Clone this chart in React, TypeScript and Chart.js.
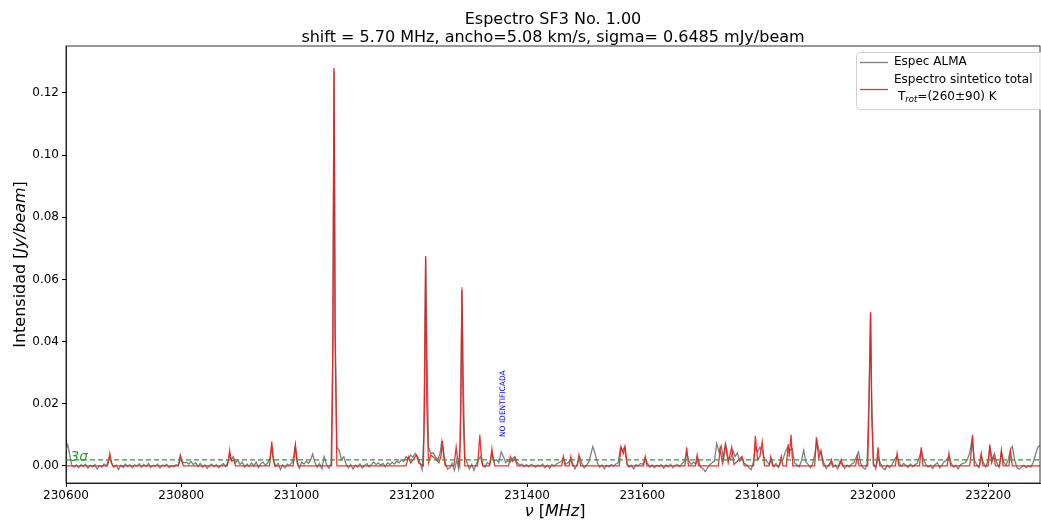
import React, { useEffect, useRef } from "react";
import { Chart, registerables } from "chart.js";

Chart.register(...registerables);

const FONT = '"DejaVu Sans", sans-serif';

const titleLines = [
  "Espectro SF3 No. 1.00",
  "shift = 5.70 MHz, ancho=5.08 km/s, sigma= 0.6485 mJy/beam",
];
const sigma = 0.0006485;
const xRange = [230600, 232290];
const yRange = [-0.0055, 0.1351];
const xTicks = [230600, 230800, 231000, 231200, 231400, 231600, 231800, 232000, 232200];
const yTicks = [0.0, 0.02, 0.04, 0.06, 0.08, 0.1, 0.12];
const noIdPos = [231358, 0.0093];

// Observed ALMA spectrum [MHz, Jy/beam]
const almaSpectrum: [number, number][] = [
  [230600,0.0050],[230603,0.0068],[230607,0.0030],[230610,0.0002],[230614,-0.0004],[230618,0.0003],[230622,-0.0006],[230626,0.0004],[230630,-0.0002],[230634,0.0005],[230638,-0.0008],[230642,0.0002],[230646,-0.0003],[230650,0.0004],[230654,-0.0010],[230658,0.0001],[230662,-0.0004],[230666,0.0006],[230670,0.0000],[230674,0.0020],[230676,0.0030],[230679,0.0008],[230683,-0.0004],[230687,0.0003],[230691,-0.0012],[230695,0.0002],[230699,-0.0005],[230703,0.0006],[230707,-0.0002],[230711,0.0004],[230715,-0.0006],[230719,0.0003],[230723,0.0000],[230727,0.0007],[230731,-0.0004],[230735,0.0005],[230739,-0.0002],[230743,0.0008],[230747,-0.0005],[230751,0.0002],[230755,-0.0001],[230759,0.0006],[230763,-0.0007],[230767,0.0003],[230771,0.0000],[230775,0.0005],[230779,-0.0006],[230783,0.0001],[230787,-0.0003],[230791,0.0004],[230795,0.0002],[230798,0.0035],[230801,0.0015],[230805,0.0010],[230809,0.0012],[230813,0.0006],[230817,0.0014],[230821,0.0004],[230825,0.0010],[230829,-0.0002],[230833,0.0008],[230837,-0.0004],[230841,0.0003],[230845,-0.0008],[230849,0.0002],[230853,0.0006],[230857,-0.0003],[230861,0.0004],[230865,-0.0006],[230869,0.0002],[230873,0.0007],[230877,-0.0002],[230881,0.0012],[230884,0.0040],[230887,0.0020],[230890,0.0030],[230894,0.0010],[230898,0.0018],[230902,0.0005],[230906,0.0012],[230910,-0.0004],[230914,0.0006],[230918,-0.0002],[230922,0.0010],[230926,0.0000],[230930,0.0012],[230934,-0.0005],[230938,0.0008],[230942,0.0012],[230946,0.0002],[230950,0.0010],[230954,0.0025],[230957,0.0060],[230960,0.0015],[230964,-0.0002],[230968,0.0008],[230972,-0.0012],[230976,0.0004],[230980,-0.0006],[230984,0.0006],[230988,0.0002],[230992,0.0010],[230995,0.0030],[230998,0.0068],[231001,0.0010],[231005,-0.0008],[231009,0.0012],[231013,0.0006],[231017,0.0015],[231021,0.0008],[231025,0.0022],[231028,0.0038],[231032,0.0010],[231036,-0.0004],[231040,0.0008],[231044,-0.0010],[231048,0.0030],[231052,0.0005],[231056,-0.0008],[231060,0.0010],[231063,0.0350],[231065,0.1270],[231067,0.0450],[231070,0.0060],[231074,0.0050],[231078,0.0020],[231082,0.0030],[231086,0.0005],[231090,-0.0006],
  [231094,0.0004],[231098,-0.0010],[231102,0.0002],[231106,-0.0004],[231110,0.0006],[231114,-0.0007],[231118,0.0001],[231122,0.0008],[231126,-0.0003],[231130,0.0005],[231134,0.0012],[231138,0.0004],[231142,0.0010],[231146,0.0002],[231150,0.0008],[231154,-0.0002],[231158,0.0010],[231162,0.0004],[231166,0.0012],[231170,0.0006],[231174,0.0015],[231178,0.0010],[231182,0.0020],[231186,0.0014],[231190,0.0030],[231194,0.0022],[231198,0.0035],[231202,0.0028],[231206,0.0040],[231210,0.0030],[231214,0.0010],[231218,-0.0012],[231221,0.0100],[231224,0.0670],[231226,0.0400],[231229,0.0060],[231233,0.0040],[231237,0.0042],[231241,0.0030],[231245,0.0020],[231249,0.0040],[231252,0.0080],[231255,0.0050],[231258,0.0010],[231262,-0.0010],[231266,-0.0006],[231270,0.0008],[231274,-0.0015],[231278,0.0020],[231281,-0.0008],[231284,0.0080],[231287,0.0575],[231289,0.0300],[231292,0.0030],[231296,0.0010],[231300,-0.0010],[231304,0.0005],[231308,-0.0015],[231312,0.0008],[231316,0.0020],[231319,0.0030],[231323,0.0002],[231327,-0.0004],[231331,0.0010],[231335,0.0005],[231339,0.0040],[231343,0.0015],[231347,0.0020],[231351,0.0010],[231355,0.0045],[231359,0.0030],[231363,0.0010],[231367,0.0018],[231371,0.0012],[231375,0.0024],[231379,0.0030],[231383,0.0010],[231387,0.0002],[231391,0.0006],[231395,-0.0002],[231399,0.0004],[231403,-0.0003],[231407,0.0005],[231411,0.0001],[231415,-0.0004],[231419,0.0003],[231423,-0.0001],[231427,0.0006],[231431,-0.0006],[231435,0.0002],[231439,-0.0008],[231443,0.0004],[231447,0.0000],[231451,0.0006],[231455,0.0010],[231459,0.0014],[231463,0.0025],[231467,0.0005],[231471,0.0010],[231475,0.0020],[231479,0.0008],[231483,-0.0010],[231487,0.0005],[231491,0.0030],[231495,0.0008],[231499,-0.0006],[231503,0.0002],[231507,0.0012],[231511,0.0040],[231514,0.0062],[231518,0.0040],[231522,0.0010],[231526,-0.0004],[231530,0.0003],[231534,-0.0009],[231538,0.0002],[231542,-0.0003],[231546,0.0004],[231550,0.0000],[231554,0.0006],[231558,0.0010],[231562,0.0058],[231566,0.0050],[231569,0.0060],[231573,0.0010],[231577,-0.0004],[231581,0.0002],[231585,-0.0010],[231589,0.0004],[231593,0.0000],[231597,0.0008],[231601,0.0005],[231605,0.0025],[231609,0.0008],[231613,-0.0004],[231617,0.0003],[231621,-0.0006],[231625,0.0002],[231629,-0.0002],[231633,0.0004],[231637,-0.0008],[231641,0.0003],[231645,-0.0003],[231649,0.0005],[231653,-0.0006],[231657,0.0002],[231661,0.0004],[231665,-0.0002],[231669,0.0008],[231673,0.0015],[231677,0.0042],[231681,0.0015],[231685,0.0005],[231689,0.0012],[231693,0.0006],[231697,0.0022],[231701,-0.0004],[231705,-0.0008],[231709,-0.0018],[231713,-0.0006],[231717,0.0004],[231721,0.0010],[231725,0.0015],[231729,0.0072],[231733,0.0045],[231737,0.0065],[231741,0.0020],[231745,0.0068],[231749,0.0025],[231753,0.0020],[231757,0.0050],[231761,0.0030],[231765,0.0042],[231769,0.0015],[231773,0.0025],[231777,0.0008],[231781,0.0004],[231785,-0.0006],[231789,-0.0012],[231793,0.0015],[231796,0.0060],[231800,0.0045],[231804,0.0060],[231808,0.0050],[231812,0.0020],[231816,0.0015],[231820,0.0005],[231824,0.0020],[231828,-0.0002],[231832,0.0008],[231836,-0.0005],[231840,0.0015],[231844,0.0020],[231848,0.0045],[231852,0.0060],[231856,0.0050],[231860,0.0055],[231864,0.0010],[231868,0.0004],[231872,-0.0003],[231876,0.0015],[231880,0.0050],[231884,0.0012],[231888,0.0004],[231892,-0.0006],[231896,0.0010],[231900,0.0045],[231903,0.0080],[231907,0.0045],[231911,0.0035],[231915,0.0010],[231919,-0.0008],[231923,0.0002],[231927,0.0012],[231931,-0.0004],[231935,0.0003],[231939,-0.0010],[231943,0.0015],[231947,0.0005],[231951,-0.0008],[231955,0.0002],[231959,-0.0004],[231963,0.0006],[231967,0.0010],[231971,0.0028],[231975,0.0045],[231979,0.0008],[231983,-0.0006],[231987,-0.0010],[231990,0.0010],[231993,0.0200],[231996,0.0490],[231998,0.0220],[232001,0.0010],[232005,-0.0010],[232009,0.0030],[232013,0.0008],[232017,-0.0006],[232021,-0.0012],[232025,0.0002],[232029,-0.0006],[232033,0.0004],[232037,0.0018],[232041,0.0030],[232045,0.0015],[232049,-0.0002],[232053,0.0008],[232057,0.0002],[232061,-0.0005],[232065,0.0006],[232069,-0.0002],[232073,0.0004],[232077,0.0008],[232081,0.0030],[232084,0.0050],[232088,0.0020],[232092,0.0005],[232096,-0.0004],[232100,0.0002],[232104,-0.0008],[232108,0.0004],[232112,0.0010],[232116,-0.0006],[232120,0.0003],[232124,0.0014],[232128,0.0020],[232132,0.0030],[232136,0.0008],[232140,-0.0004],[232144,0.0002],[232148,-0.0010],[232152,0.0004],[232156,0.0008],[232160,0.0010],[232164,0.0020],[232168,0.0042],[232172,0.0085],[232176,0.0020],[232180,0.0004],[232184,-0.0006],[232188,0.0030],[232192,0.0010],[232196,-0.0004],[232200,0.0020],[232203,0.0060],[232207,0.0020],[232211,0.0040],[232215,0.0010],[232219,-0.0004],[232223,0.0045],[232227,0.0012],[232231,0.0002],[232235,0.0020],[232239,0.0055],[232242,0.0062],[232246,0.0020],[232250,-0.0006],[232254,-0.0010],[232258,-0.0004],[232262,0.0002],[232266,-0.0006],[232270,0.0000],[232274,-0.0004],[232278,0.0010],[232282,0.0035],[232286,0.0060],[232290,0.0066],
];

// Total synthetic spectrum [MHz, Jy/beam]
const synthSpectrum: [number, number][] = [
  [230600,0],
  [230672,0],[230674,0.0018],[230676,0.0040],[230678,0.0018],[230681,0],
  [230795,0],[230797,0.0014],[230799,0.0030],[230801,0.0014],[230804,0],
  [230880,0],[230882,0.0022],[230884,0.0050],[230886,0.0022],[230888,0.0015],[230891,0.0020],[230894,0],
  [230953,0],[230955,0.0035],[230957,0.0078],[230959,0.0035],[230962,0],
  [230994,0],[230996,0.0030],[230998,0.0065],[231000,0.0030],[231003,0],
  [231061,0],[231063,0.0400],[231065,0.1280],[231067,0.0400],[231070,0],
  [231190,0],[231194,0.0030],[231198,0.0010],[231208,0.0035],[231212,0.0010],[231220,0],
  [231222,0.0200],[231224,0.0675],[231226,0.0200],[231229,0.0010],[231233,0.0035],[231240,0.0025],[231247,0.0010],
  [231251,0.0035],[231253,0.0080],[231255,0.0035],[231258,0],
  [231273,0],[231275,0.0028],[231277,0.0060],[231279,0.0028],[231283,0],
  [231285,0.0180],[231287,0.0565],[231289,0.0180],[231292,0],
  [231314,0],[231316,0.0045],[231318,0.0100],[231320,0.0045],[231323,0],
  [231335,0],[231337,0.0025],[231339,0.0055],[231341,0.0025],[231344,0],
  [231368,0],[231371,0.0030],[231375,0.0015],[231379,0.0025],[231383,0],
  [231460,0],[231463,0.0030],[231466,0],[231473,0],[231476,0.0030],[231479,0],[231487,0],[231490,0.0035],[231493,0],
  [231560,0],[231563,0.0062],[231567,0.0040],[231570,0.0062],[231574,0],
  [231602,0],[231605,0.0030],[231608,0],
  [231674,0],[231677,0.0060],[231680,0],[231692,0],[231695,0.0035],[231698,0],
  [231732,0],[231735,0.0055],[231739,0.0010],[231744,0.0070],[231749,0.0010],[231755,0.0060],[231759,0.0005],[231773,0.0030],[231777,0],
  [231793,0],[231796,0.0097],[231800,0.0020],[231804,0.0030],[231808,0.0078],[231812,0],
  [231820,0],[231823,0.0030],[231826,0],[231838,0],[231841,0.0030],[231844,0],
  [231850,0],[231853,0.0070],[231855,0.0030],[231858,0.0100],[231861,0],
  [231899,0],[231902,0.0093],[231906,0.0025],[231910,0.0050],[231914,0],
  [231925,0],[231928,0.0020],[231931,0],[231942,0],[231945,0.0020],[231948,0],
  [231970,0],[231973,0.0030],[231976,0],
  [231991,0],[231993,0.0160],[231996,0.0495],[231998,0.0160],[232001,0],
  [232006,0],[232009,0.0060],[232012,0],
  [232039,0],[232042,0.0040],[232045,0],
  [232081,0],[232084,0.0060],[232087,0],
  [232129,0],[232132,0.0040],[232135,0],
  [232168,0],[232171,0.0050],[232173,0.0100],[232176,0],
  [232185,0],[232188,0.0040],[232191,0],
  [232200,0],[232203,0.0068],[232206,0.0010],[232210,0.0030],[232213,0],
  [232220,0],[232223,0.0050],[232226,0],
  [232236,0],[232239,0.0045],[232242,0],
  [232290,0],
];

const legendLabels = ["Espec ALMA", "Espectro sintetico total", "=(260\u00b190) K"];

function drawSegments(ctx: CanvasRenderingContext2D, segs: [string, string][], x: number, y: number) {
  let cx = x;
  for (const [text, font] of segs) {
    ctx.font = font;
    ctx.fillText(text, cx, y);
    cx += ctx.measureText(text).width;
  }
}
function segsWidth(ctx: CanvasRenderingContext2D, segs: [string, string][]) {
  let w = 0;
  for (const [text, font] of segs) {
    ctx.font = font;
    w += ctx.measureText(text).width;
  }
  return w;
}

const decorPlugin = {
  id: "decor",
  afterDraw(chart: any) {
    const { ctx, chartArea: a, scales } = chart;
    const xs = scales.x, ys = scales.y;
    ctx.save();
    // frame
    ctx.strokeStyle = "#000";
    ctx.lineWidth = 0.8;
    ctx.strokeRect(a.left, a.top, a.right - a.left, a.bottom - a.top);

    // title
    ctx.fillStyle = "#000";
    ctx.textAlign = "center";
    ctx.textBaseline = "alphabetic";
    ctx.font = `16px ${FONT}`;
    const cx = (a.left + a.right) / 2;
    ctx.fillText(titleLines[0], cx, 24);
    ctx.fillText(titleLines[1], cx, 42);

    // x label
    ctx.textAlign = "left";
    const up = `16px ${FONT}`;
    const it = `italic 16px ${FONT}`;
    const xl: [string, string][] = [["\u03bd", it], [" [", up], ["MHz", it], ["]", up]];
    const xw = segsWidth(ctx, xl);
    drawSegments(ctx, xl, cx - xw / 2 + 2, 516);

    // y label
    const yl: [string, string][] = [["Intensidad [", up], ["Jy/beam", it], ["]", up]];
    const yw = segsWidth(ctx, yl);
    ctx.save();
    ctx.translate(25, (a.top + a.bottom) / 2);
    ctx.rotate(-Math.PI / 2);
    drawSegments(ctx, yl, -yw / 2, 0);
    ctx.restore();

    // 3 sigma label
    ctx.fillStyle = "#2ca02c";
    ctx.font = `italic 13.5px ${FONT}`;
    ctx.textBaseline = "alphabetic";
    ctx.fillText("3\u03c3", xs.getPixelForValue(230608), ys.getPixelForValue(3 * sigma) + 1);

    // NO IDENTIFICADA
    ctx.save();
    ctx.fillStyle = "#0000ff";
    ctx.font = `7.5px ${FONT}`;
    ctx.textBaseline = "middle";
    ctx.translate(xs.getPixelForValue(noIdPos[0]), ys.getPixelForValue(noIdPos[1]));
    ctx.rotate(-Math.PI / 2);
    ctx.fillText("NO IDENTIFICADA", 0, 0);
    ctx.restore();

    // legend
    const lx = 856, ly = 52, lw = 190, lh = 57;
    ctx.fillStyle = "rgba(255,255,255,0.85)";
    ctx.strokeStyle = "#d0d0d0";
    ctx.lineWidth = 1;
    ctx.beginPath();
    ctx.roundRect(lx + 0.5, ly + 0.5, lw, lh, 3);
    ctx.fill();
    ctx.stroke();
    ctx.lineWidth = 1.3;
    ctx.strokeStyle = "#808080";
    ctx.beginPath();
    ctx.moveTo(860, 62.5);
    ctx.lineTo(888, 62.5);
    ctx.stroke();
    ctx.strokeStyle = "rgba(230,30,30,0.9)";
    ctx.beginPath();
    ctx.moveTo(860, 89.5);
    ctx.lineTo(888, 89.5);
    ctx.stroke();
    ctx.fillStyle = "#000";
    ctx.textBaseline = "middle";
    ctx.textAlign = "left";
    const lf = `12px ${FONT}`;
    ctx.font = lf;
    ctx.fillText(legendLabels[0], 894, 62);
    ctx.fillText(legendLabels[1], 894, 80);
    let tx = 898;
    ctx.fillText("T", tx, 97);
    tx += ctx.measureText("T").width;
    ctx.font = `italic 8.5px ${FONT}`;
    ctx.fillText("rot", tx, 100);
    tx += ctx.measureText("rot").width;
    ctx.font = lf;
    ctx.fillText(legendLabels[2], tx, 97);
    ctx.restore();
  },
};

export default function App() {
  const ref = useRef<HTMLCanvasElement | null>(null);
  useEffect(() => {
    document.body.style.margin = "0";
    if (!ref.current) return;
    const tickFont = { family: FONT, size: 12 };
    const chart = new Chart(ref.current, {
      type: "scatter",
      data: {
        datasets: [
          {
            label: "Espectro sintetico total",
            data: synthSpectrum.map(([x, y]) => ({ x, y })),
            showLine: true,
            borderColor: "rgba(230,30,30,0.9)",
            borderWidth: 1.3,
            pointRadius: 0,
            tension: 0,
            order: 0,
          },
          {
            label: "Espec ALMA",
            data: almaSpectrum.map(([x, y]) => ({ x, y })),
            showLine: true,
            borderColor: "#808080",
            borderWidth: 1.3,
            pointRadius: 0,
            tension: 0,
            order: 1,
          },
          {
            label: "3sigma",
            data: [
              { x: xRange[0], y: 3 * sigma },
              { x: xRange[1], y: 3 * sigma },
            ],
            showLine: true,
            borderColor: "#2ca02c",
            borderWidth: 1.2,
            borderDash: [5, 3],
            pointRadius: 0,
            order: -1,
          },
        ],
      },
      options: {
        animation: false,
        responsive: true,
        maintainAspectRatio: false,
        layout: { padding: { top: 46, right: 1, left: 0, bottom: 0 } },
        plugins: { legend: { display: false }, title: { display: false }, tooltip: { enabled: false } },
        scales: {
          x: {
            type: "linear",
            min: xRange[0],
            max: xRange[1],
            afterBuildTicks: (s: any) => {
              s.ticks = xTicks.map((v) => ({ value: v }));
            },
            afterFit: (s: any) => {
              s.height = 37;
            },
            ticks: {
              font: tickFont,
              color: "#000",
              maxRotation: 0,
              autoSkip: false,
              padding: 2,
              callback: (v: any) => String(v),
            },
            grid: { display: true, drawOnChartArea: false, drawTicks: true, tickLength: 4, color: "#000" },
            border: { display: true, color: "#000", width: 0.8 },
          },
          y: {
            type: "linear",
            min: yRange[0],
            max: yRange[1],
            afterBuildTicks: (s: any) => {
              s.ticks = yTicks.map((v) => ({ value: v }));
            },
            afterFit: (s: any) => {
              s.width = 66;
            },
            ticks: {
              font: tickFont,
              color: "#000",
              autoSkip: false,
              padding: 3,
              callback: (v: any) => Number(v).toFixed(2),
            },
            grid: { display: true, drawOnChartArea: false, drawTicks: true, tickLength: 4, color: "#000" },
            border: { display: true, color: "#000", width: 0.8 },
          },
        },
      },
      plugins: [decorPlugin],
    });
    return () => chart.destroy();
  }, []);
  return (
    <div style={{ position: "relative", width: 1041, height: 520, background: "#fff" }}>
      <canvas ref={ref} />
    </div>
  );
}
